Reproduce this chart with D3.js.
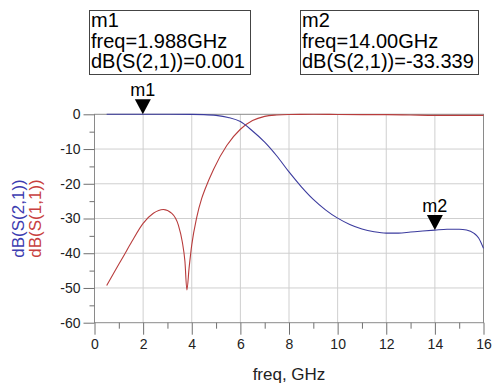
<!DOCTYPE html>
<html>
<head>
<meta charset="utf-8">
<script src="https://cdn.jsdelivr.net/npm/d3@7"></script>
<style>
  body { margin: 0; background: #fff; }
  svg { font-family: "Liberation Sans", Arial, sans-serif; }
</style>
</head>
<body>
<svg id="chart" width="500" height="387"></svg>
<script>
// S(2,1) trace (blue)
const s21Freq = [0.5, 1, 2, 3, 4, 4.5, 5, 5.5, 6, 6.5, 7, 7.5, 8, 8.5, 9, 9.5, 10, 10.5, 11, 11.5, 12, 12.5, 13, 13.5, 14, 14.5, 15, 15.3, 15.6, 15.8, 16];
const s21Db = [0, 0, -0.001, 0, -0.02, -0.08, -0.3, -0.9, -2.1, -4.8, -8.0, -12.0, -16.6, -20.8, -24.5, -27.5, -29.9, -31.7, -33.0, -33.8, -34.2, -34.2, -33.9, -33.6, -33.339, -33.1, -33.1, -33.3, -34.2, -35.6, -38.6];

// S(1,1) trace (red)
const s11Freq = [0.5, 0.84, 1.18, 1.53, 2.0, 2.42, 2.83, 3.18, 3.45, 3.61, 3.72, 3.8, 3.89, 4.0, 4.2, 4.41, 4.55, 4.9, 5.44, 6.0, 6.5, 7.0, 7.5, 8, 9, 10, 11, 12, 13, 14, 15, 16];
const s11Db = [-49.3, -45.1, -41.0, -36.7, -31.4, -28.5, -27.4, -28.5, -31.9, -36.7, -42.4, -50.6, -44.3, -37.6, -29.8, -24.2, -21.5, -15.8, -9.0, -4.3, -1.8, -0.6, -0.2, -0.05, 0, -0.05, -0.1, -0.1, -0.2, -0.3, -0.3, -0.3];

const xMajor = [0, 2, 4, 6, 8, 10, 12, 14, 16];
const xMinor = [1, 3, 5, 7, 9, 11, 13, 15];
const yMajor = [0, -10, -20, -30, -40, -50, -60];
const yMinor = [-5, -15, -25, -35, -45, -55];

// markers
const markers = [
  { name: "m1", freq: 1.988, freqLabel: "1.988GHz", value: 0.001, valueLabel: "0.001", box: [89.5, 10.5, 161, 64] },
  { name: "m2", freq: 14.0, freqLabel: "14.00GHz", value: -33.339, valueLabel: "-33.339", box: [300.5, 10.5, 178, 64] }
];

const blue = "#3b3b9e";
const red = "#b83c3c";

const svg = d3.select("#chart");

const x = d3.scaleLinear().domain([0, 16]).range([94.5, 483.5]);
const y = d3.scaleLinear().domain([-60, 0]).range([322.7, 114.3]);

// grid
svg.append("g").selectAll("line").data(xMajor.slice(1, -1)).join("line")
  .attr("x1", d => x(d)).attr("x2", d => x(d))
  .attr("y1", y(0)).attr("y2", y(-60))
  .attr("stroke", "#cfcfcf").attr("stroke-width", 1);
svg.append("g").selectAll("line").data(yMajor.slice(1, -1)).join("line")
  .attr("x1", x(0)).attr("x2", x(16))
  .attr("y1", d => y(d)).attr("y2", d => y(d))
  .attr("stroke", "#cfcfcf").attr("stroke-width", 1);

// frame
svg.append("rect")
  .attr("x", x(0)).attr("y", y(0))
  .attr("width", x(16) - x(0)).attr("height", y(-60) - y(0))
  .attr("fill", "none").attr("stroke", "#8a8a8a").attr("stroke-width", 1);

// axes
const styleAxis = g => {
  g.select(".domain").remove();
  g.selectAll("line").attr("stroke", "#707070");
  g.selectAll("text").attr("fill", "#222").style("font-size", "14px")
    .style("font-family", "'Liberation Sans', Arial, sans-serif");
};
const plain = d => String(d);

svg.append("g").attr("transform", `translate(${x(0)},0)`)
  .call(d3.axisLeft(y).tickValues(yMajor).tickSize(11).tickPadding(3).tickFormat(plain))
  .call(styleAxis);
svg.append("g").attr("transform", `translate(${x(0)},0)`)
  .call(d3.axisLeft(y).tickValues(yMinor).tickSize(5).tickFormat(""))
  .call(styleAxis);
svg.append("g").attr("transform", `translate(0,${y(-60)})`)
  .call(d3.axisBottom(x).tickValues(xMajor).tickSize(12).tickPadding(4).tickFormat(plain))
  .call(styleAxis);
svg.append("g").attr("transform", `translate(0,${y(-60)})`)
  .call(d3.axisBottom(x).tickValues(xMinor).tickSize(6).tickFormat(""))
  .call(styleAxis);

// traces
const line = d3.line().x(d => x(d[0])).y(d => y(d[1])).curve(d3.curveMonotoneX);

svg.append("path")
  .datum(d3.zip(s11Freq, s11Db))
  .attr("d", line)
  .attr("fill", "none").attr("stroke", red).attr("stroke-width", 1.1);

svg.append("path")
  .datum(d3.zip(s21Freq, s21Db))
  .attr("d", line)
  .attr("fill", "none").attr("stroke", blue).attr("stroke-width", 1.1);

// axis titles
svg.append("text")
  .attr("x", x(8)).attr("y", 380)
  .attr("text-anchor", "middle")
  .style("font-size", "17px").attr("fill", "#222")
  .text("freq, GHz");

const yMid = (y(0) + y(-60)) / 2;
svg.append("text")
  .attr("transform", `translate(24,${yMid}) rotate(-90)`)
  .attr("text-anchor", "middle")
  .style("font-size", "17px").attr("fill", "#3c3cb0")
  .text("dB(S(2,1))");
svg.append("text")
  .attr("transform", `translate(41,${yMid}) rotate(-90)`)
  .attr("text-anchor", "middle")
  .style("font-size", "17px").attr("fill", "#c84040")
  .text("dB(S(1,1))");

// markers on the trace
for (let m of markers) {
  let px = x(m.freq);
  let py = y(m.value);
  svg.append("path")
    .attr("d", `M${px - 8},${py - 15} L${px + 8},${py - 15} L${px},${py} Z`)
    .attr("fill", "#000");
  svg.append("text")
    .attr("x", px).attr("y", py - 18)
    .attr("text-anchor", "middle")
    .style("font-size", "18px").attr("fill", "#000")
    .text(m.name);

  // readout box
  let b = m.box;
  svg.append("rect")
    .attr("x", b[0]).attr("y", b[1]).attr("width", b[2]).attr("height", b[3])
    .attr("fill", "#fff").attr("stroke", "#444").attr("stroke-width", 1);
  let lines = [m.name, "freq=" + m.freqLabel, "dB(S(2,1))=" + m.valueLabel];
  svg.append("g").selectAll("text").data(lines).join("text")
    .attr("x", b[0] + 1.5)
    .attr("y", (d, i) => 26.7 + i * 20.8)
    .style("font-size", "20px").attr("fill", "#000")
    .text(d => d);
}
</script>
</body>
</html>
